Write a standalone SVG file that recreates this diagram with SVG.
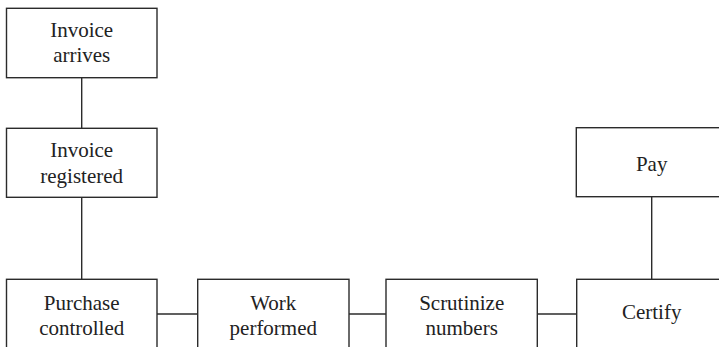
<svg xmlns="http://www.w3.org/2000/svg" width="719" height="347" viewBox="0 0 719 347">
<style>
.box{fill:#fff;stroke:#2b2b2b;stroke-width:1.4}
.c{fill:none;stroke:#2b2b2b;stroke-width:1.4}
text{font-family:"Liberation Serif",serif;font-size:21px;fill:#222;text-anchor:middle}
</style>
<rect width="719" height="347" fill="#fff"/>
<g id="connectors">
<line class="c" x1="81.7" y1="77.7" x2="81.7" y2="128.3"/>
<line class="c" x1="81.7" y1="197.3" x2="81.7" y2="279.3"/>
<line class="c" x1="157" y1="314" x2="197.7" y2="314"/>
<line class="c" x1="349" y1="314" x2="386" y2="314"/>
<line class="c" x1="537.3" y1="314" x2="576.7" y2="314"/>
<line class="c" x1="651.7" y1="196.7" x2="651.7" y2="279.3"/>
</g>
<g id="invoice-arrives">
<rect class="box" x="6.5" y="8.3" width="150.5" height="69.4"/>
<text x="81.7" y="37.3">Invoice</text>
<text x="81.7" y="61.7">arrives</text>
</g>
<g id="invoice-registered">
<rect class="box" x="6.5" y="128.3" width="150.5" height="69"/>
<text x="81.7" y="157.3">Invoice</text>
<text x="81.7" y="183">registered</text>
</g>
<g id="purchase-controlled">
<rect class="box" x="6.5" y="279.3" width="150.5" height="80"/>
<text x="81.7" y="310">Purchase</text>
<text x="81.7" y="335">controlled</text>
</g>
<g id="work-performed">
<rect class="box" x="197.7" y="279.3" width="151.3" height="80"/>
<text x="273.3" y="310">Work</text>
<text x="273.3" y="335">performed</text>
</g>
<g id="scrutinize-numbers">
<rect class="box" x="386" y="279.3" width="151.3" height="80"/>
<text x="461.7" y="310">Scrutinize</text>
<text x="461.7" y="335">numbers</text>
</g>
<g id="certify">
<rect class="box" x="576.7" y="279.3" width="151" height="80"/>
<text x="651.7" y="319.3">Certify</text>
</g>
<g id="pay">
<rect class="box" x="576.3" y="127.7" width="151" height="69"/>
<text x="651.7" y="171">Pay</text>
</g>
</svg>
